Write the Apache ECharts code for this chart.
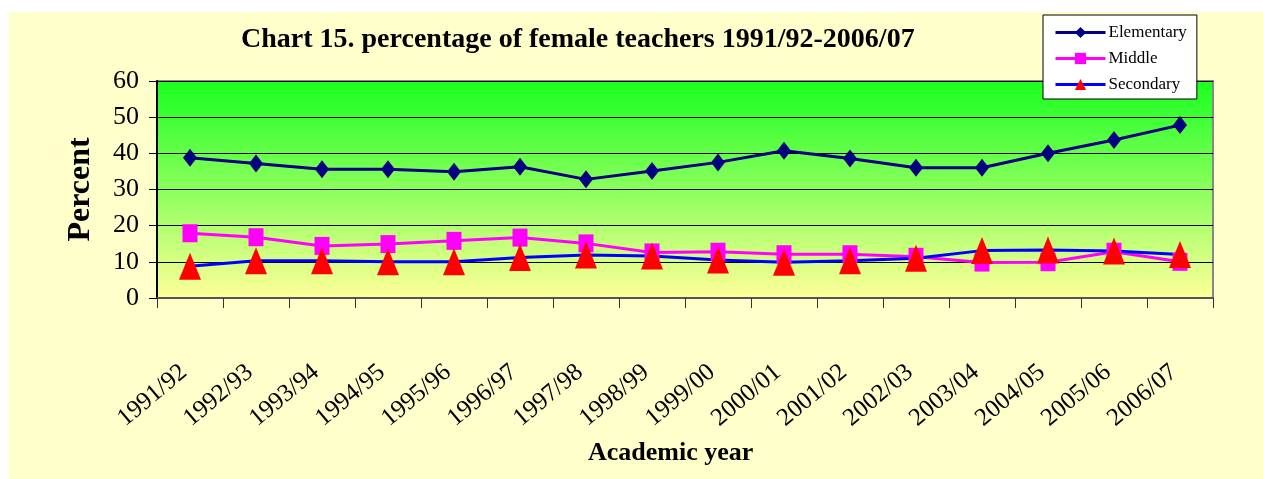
<!DOCTYPE html>
<html>
<head>
<meta charset="utf-8">
<script src="https://cdn.jsdelivr.net/npm/echarts@6/dist/echarts.min.js"></script>
<style>
html, body { margin: 0; padding: 0; background: #fff; }
#chart { position: absolute; left: 9px; top: 12px; width: 1254px; height: 467px; }
</style>
</head>
<body>
<div id="chart"></div>
<script>
var years = ['1991/92', '1992/93', '1993/94', '1994/95', '1995/96', '1996/97', '1997/98', '1998/99',
    '1999/00', '2000/01', '2001/02', '2002/03', '2003/04', '2004/05', '2005/06', '2006/07'];
var elementary = [38.8, 37.2, 35.6, 35.6, 34.9, 36.3, 32.8, 35.1, 37.5, 40.7, 38.6, 36.0, 36.0, 40.0, 43.7, 47.8];
var middle = [17.9, 16.8, 14.4, 14.9, 15.8, 16.7, 15.1, 12.6, 12.8, 12.1, 12.1, 11.4, 9.8, 9.9, 12.8, 10.0];
var secondary = [8.8, 10.3, 10.3, 10.0, 10.0, 11.2, 11.9, 11.6, 10.5, 9.9, 10.3, 11.0, 13.1, 13.3, 13.0, 12.0];
var yTicks = [0, 60, 10];

var serif = '"Liberation Serif", "Times New Roman", serif';
var myChart = echarts.init(document.getElementById('chart'));

var option = {
    backgroundColor: '#ffffcc',
    animation: false,
    title: [{
        text: 'Chart 15. percentage of female teachers 1991/92-2006/07',
        left: 227,
        top: 9,
        textStyle: {fontFamily: serif, fontSize: 28, fontWeight: 'bold', color: '#000'}
    }, {
        text: 'Academic year',
        left: 574,
        top: 423,
        textStyle: {fontFamily: serif, fontSize: 26, fontWeight: 'bold', color: '#000'}
    }],
    legend: {
        orient: 'vertical',
        left: 1034,
        top: 3,
        padding: [9, 10, 6, 11],
        itemWidth: 50,
        itemHeight: 14,
        itemGap: 9,
        backgroundColor: '#fff',
        borderColor: '#000',
        borderWidth: 1,
        borderRadius: 0,
        lineStyle: {width: 3},
        textStyle: {fontFamily: serif, fontSize: 17, color: '#000', padding: [0, 0, 0, -2]},
        data: ['Elementary', 'Middle', 'Secondary']
    },
    grid: {
        left: 148,
        top: 69,
        width: 1056,
        height: 217,
        show: true,
        borderColor: '#888',
        borderWidth: 2,
        backgroundColor: new echarts.graphic.LinearGradient(0, 0, 0, 1, [
            {offset: 0, color: '#1aff1a'},
            {offset: 0.08, color: '#2aff2a'},
            {offset: 1, color: '#ffff99'}
        ])
    },
    xAxis: {
        type: 'category',
        data: years,
        boundaryGap: true,
        axisLine: {lineStyle: {color: '#555', width: 2}},
        axisTick: {show: true, length: 10, lineStyle: {color: '#333'}},
        axisLabel: {
            interval: 0,
            rotate: 40,
            margin: 66,
            padding: [0, 8, 0, 0],
            fontFamily: serif,
            fontSize: 25,
            color: '#000'
        }
    },
    yAxis: {
        type: 'value',
        min: yTicks[0],
        max: yTicks[1],
        interval: yTicks[2],
        name: 'Percent',
        nameLocation: 'middle',
        nameRotate: 90,
        nameGap: 60,
        nameTextStyle: {fontFamily: serif, fontSize: 32, fontWeight: 'bold', color: '#000'},
        axisLine: {show: true, lineStyle: {color: '#000', width: 2}},
        axisTick: {show: true, length: 8, lineStyle: {color: '#000'}},
        axisLabel: {margin: 18, fontFamily: serif, fontSize: 26, color: '#000'},
        splitLine: {lineStyle: {color: '#000', width: 1}}
    },
    series: [{
        name: 'Elementary',
        type: 'line',
        data: elementary,
        symbol: 'diamond',
        symbolSize: [14, 18],
        lineStyle: {color: '#000080', width: 3},
        itemStyle: {color: '#000080'}
    }, {
        name: 'Middle',
        type: 'line',
        data: middle,
        symbol: 'rect',
        symbolSize: [15, 18],
        lineStyle: {color: '#ff00ff', width: 3},
        itemStyle: {color: '#ff00ff'}
    }, {
        name: 'Secondary',
        type: 'line',
        data: secondary,
        symbol: 'triangle',
        symbolSize: [22, 27],
        lineStyle: {color: '#0000ff', width: 3},
        itemStyle: {color: '#ff0000'}
    }]
};

myChart.setOption(option);
</script>
</body>
</html>
